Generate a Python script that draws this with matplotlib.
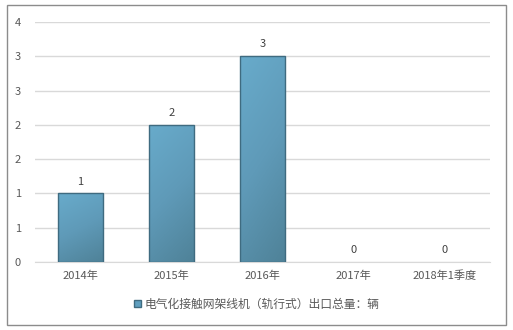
import numpy as np
import matplotlib
matplotlib.use('Agg')
import matplotlib.pyplot as plt
from matplotlib.ticker import FuncFormatter, MultipleLocator
from matplotlib.patches import Rectangle
from matplotlib.colors import LinearSegmentedColormap

plt.rcParams['font.family'] = ['Noto Sans CJK SC', 'DejaVu Sans']

categories = ['2014年', '2015年', '2016年', '2017年', '2018年1季度']
values = [1, 2, 3, 0, 0]
series_name = '电气化接触网架线机（轨行式）出口总量：辆'

fig = plt.figure(figsize=(5.13, 3.30), dpi=100)
fig.patches.append(Rectangle((7 / 513, 5 / 330), 499 / 513, 320 / 330, transform=fig.transFigure,
                             fill=False, edgecolor='#8c8c8c', linewidth=1))
ax = fig.add_axes([35 / 513, 1 - 262 / 330, 455 / 513, 240 / 330])

x = np.arange(len(categories))
bars = ax.bar(x, values, width=0.5, color='none', edgecolor='none', linewidth=0, zorder=3)

# gradient fill, lighter at the top-left, darker to the bottom-right
cmap = LinearSegmentedColormap.from_list('g', ['#68abcb', '#5f9ab8', '#4f8298'])
gy, gx = np.mgrid[0:1:100j, 0:1:30j]
grad = 0.75 * gy + 0.25 * gx
for b in bars:
    if b.get_height() <= 0:
        continue
    im = ax.imshow(grad, cmap=cmap, aspect='auto', zorder=3.5, interpolation='bicubic',
                   extent=[b.get_x(), b.get_x() + b.get_width(), 0, b.get_height()], origin='upper')
    im.set_clip_path(b)
    r = Rectangle((b.get_x(), 0), b.get_width(), b.get_height(), fill=False,
                  edgecolor='#3f6b80', linewidth=1, zorder=4)
    ax.add_patch(r)

for xi, v in zip(x, values):
    ax.text(xi, v + 0.1, str(v), ha='center', va='bottom', fontsize=8, color='#404040', zorder=5)

ax.set_xlim(-0.5, len(categories) - 0.5)
ax.set_ylim(0, 3.5)
ax.yaxis.set_major_locator(MultipleLocator(0.5))
ax.yaxis.set_major_formatter(FuncFormatter(lambda v, p: str(int(np.floor(v + 0.5)))))
ax.set_xticks(x)
ax.set_xticklabels(categories)
ax.grid(axis='y', color='#d9d9d9', linewidth=1, zorder=0)
for s in ['top', 'right', 'left']:
    ax.spines[s].set_visible(False)
ax.spines['bottom'].set_color('#d9d9d9')
ax.tick_params(axis='both', length=0, labelsize=8, colors='#595959')
ax.tick_params(axis='y', pad=10)
ax.tick_params(axis='x', pad=6)

handle = Rectangle((0, 0), 1, 1, facecolor='#5f9fbf', edgecolor='#3f6b80')
fig.legend([handle], [series_name], loc='center', bbox_to_anchor=(0.5, 1 - 304 / 330),
           frameon=False, fontsize=8.5, handlelength=0.6, handleheight=0.6, handletextpad=0.3,
           labelcolor='#595959')

fig.savefig('out.png', dpi=100)
